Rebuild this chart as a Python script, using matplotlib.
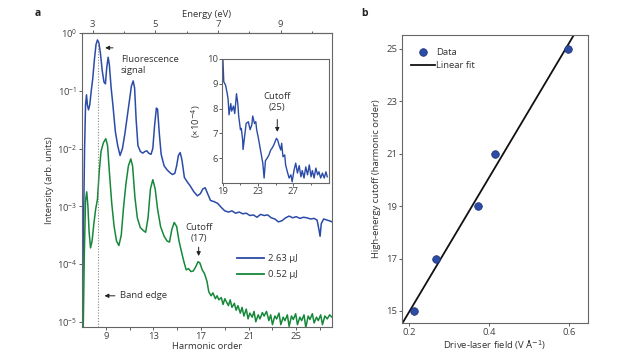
import numpy as np
import matplotlib
matplotlib.use("Agg")
from matplotlib import pyplot as plt
from matplotlib.lines import Line2D
from matplotlib.ticker import FixedLocator

plt.rcParams['font.family'] = ['Open Sans', 'DejaVu Sans']
plt.rcParams['font.size'] = 6.8
plt.rcParams['text.color'] = '#333333'
plt.rcParams['axes.labelcolor'] = '#333333'
plt.rcParams['xtick.color'] = '#444444'
plt.rcParams['ytick.color'] = '#444444'

# ---- panel a: spectra (harmonic order, log10 intensity) ----
blue_n = [7.02, 7.12, 7.22, 7.3, 7.38, 7.46, 7.55, 7.65, 7.78, 7.9, 8.05, 8.18, 8.3, 8.42,
          8.55, 8.7, 8.85, 8.97, 9.08, 9.2, 9.3, 9.45, 9.6, 9.8, 10.0, 10.2, 10.4, 10.6,
          10.8, 11.0, 11.15, 11.3, 11.42, 11.55, 11.7, 11.9, 12.1, 12.3, 12.45, 12.6, 12.8,
          12.95, 13.1, 13.25, 13.35, 13.5, 13.65, 13.9, 14.15, 14.4, 14.6, 14.8, 14.95,
          15.1, 15.25, 15.4, 15.6, 15.85, 16.1, 16.4, 16.7, 16.95, 17.15, 17.35, 17.55,
          17.8, 18.1, 18.4, 18.7, 19.0, 19.3, 19.6, 19.9, 20.2, 20.5, 20.8, 21.1, 21.4,
          21.7, 22.0, 22.3, 22.6, 22.9, 23.2, 23.5, 23.8, 24.1, 24.4, 24.7, 25.0, 25.3,
          25.6, 25.9, 26.2, 26.5, 26.75, 26.9, 27.0, 27.1, 27.3, 27.6, 27.9, 28.0]
blue_log = [-5.1, -3.5, -2.0, -1.25, -1.07, -1.25, -1.33, -1.25, -1.0, -0.8, -0.45, -0.2,
            -0.12, -0.17, -0.35, -0.65, -0.85, -0.88, -0.6, -0.42, -0.55, -0.95, -1.25,
            -1.7, -1.95, -2.12, -2.0, -1.75, -1.45, -1.15, -0.92, -0.83, -0.95, -1.5,
            -1.95, -2.05, -2.08, -2.05, -2.04, -2.08, -2.1, -2.0, -1.6, -1.3, -1.32, -1.75,
            -2.1, -2.3, -2.37, -2.42, -2.45, -2.43, -2.3, -2.12, -2.07, -2.2, -2.5, -2.58,
            -2.65, -2.75, -2.82, -2.78, -2.7, -2.68, -2.78, -2.9, -2.92, -2.95, -3.02,
            -3.08, -3.1, -3.08, -3.12, -3.1, -3.13, -3.12, -3.16, -3.15, -3.19, -3.14,
            -3.16, -3.15, -3.2, -3.22, -3.27, -3.25, -3.2, -3.17, -3.2, -3.18, -3.21,
            -3.19, -3.2, -3.22, -3.21, -3.24, -3.4, -3.52, -3.3, -3.22, -3.24, -3.26, -3.27]

green_n = [7.1, 7.2, 7.3, 7.4, 7.5, 7.6, 7.72, 7.85, 8.0, 8.15, 8.3, 8.45, 8.6, 8.8, 9.0,
           9.15, 9.3, 9.5, 9.7, 9.9, 10.1, 10.3, 10.5, 10.7, 10.9, 11.1, 11.25, 11.45,
           11.65, 11.9, 12.15, 12.35, 12.55, 12.75, 12.95, 13.15, 13.35, 13.6, 13.9, 14.15,
           14.35, 14.55, 14.75, 14.95, 15.15, 15.35, 15.55, 15.75, 15.95, 16.15, 16.35,
           16.55, 16.75, 16.9, 17.1, 17.3, 17.5, 17.65, 17.85, 18.0, 18.2, 18.35, 18.5,
           18.7, 18.85, 19.0, 19.15, 19.3, 19.45, 19.6, 19.8, 19.95, 20.1, 20.3, 20.45,
           20.6, 20.8, 20.95, 21.1, 21.3, 21.45, 21.6, 21.8, 21.95, 22.15, 22.3, 22.5,
           22.7, 22.85, 23.0, 23.2, 23.35, 23.55, 23.7, 23.9, 24.05, 24.25, 24.4, 24.6,
           24.75, 24.95, 25.1, 25.3, 25.45, 25.65, 25.8, 26.0, 26.15, 26.35, 26.5, 26.7,
           26.85, 27.05, 27.2, 27.4, 27.6, 27.8, 28.0]
green_log = [-5.2, -3.8, -2.9, -2.75, -3.0, -3.45, -3.72, -3.6, -3.3, -3.05, -2.88, -2.4,
             -2.05, -1.9, -1.83, -1.95, -2.4, -2.95, -3.35, -3.6, -3.68, -3.5, -3.0, -2.6,
             -2.3, -2.18, -2.3, -2.85, -3.2, -3.37, -3.42, -3.45, -3.2, -2.7, -2.54, -2.7,
             -3.05, -3.35, -3.52, -3.6, -3.62, -3.4, -3.28, -3.35, -3.6, -3.78, -3.95,
             -4.1, -4.08, -4.13, -4.12, -4.05, -3.96, -3.98, -4.1, -4.17, -4.3, -4.48,
             -4.55, -4.5, -4.6, -4.55, -4.62, -4.58, -4.7, -4.6, -4.66, -4.72, -4.62,
             -4.75, -4.68, -4.8, -4.72, -4.85, -4.75, -4.9, -4.78, -4.95, -4.85, -4.92,
             -4.82, -5.0, -4.88, -4.95, -4.84, -4.9, -4.82, -4.98, -4.88, -5.05, -4.9,
             -4.95, -4.85, -5.05, -4.92, -4.98, -4.88, -5.08, -4.9, -4.96, -4.86, -5.05,
             -4.92, -4.98, -4.88, -5.1, -4.9, -4.96, -4.86, -5.02, -4.92, -4.98, -4.88,
             -5.05, -4.9, -4.95, -4.88, -4.92]

# inset: 2.63 uJ high-order tail (x1e-4)
inset_n = [19.0, 19.1, 19.3, 19.5, 19.6, 19.7, 19.9, 20.0, 20.2, 20.35, 20.55, 20.7, 20.8,
           21.0, 21.1, 21.25, 21.3, 21.5, 21.65, 21.9, 22.1, 22.3, 22.4, 22.6, 22.75,
           22.85, 23.05, 23.3, 23.55, 23.7, 23.85, 24.05, 24.25, 24.45, 24.6, 24.8, 25.1,
           25.25, 25.4, 25.6, 25.7, 25.85, 26.05, 26.15, 26.35, 26.55, 26.75, 26.9, 27.1,
           27.3, 27.5, 27.7, 27.9, 28.05, 28.25, 28.45, 28.65, 28.85, 29.05, 29.2, 29.4,
           29.6, 29.8, 29.95, 30.15, 30.35, 30.55, 30.75, 30.9]
inset_val = [10.0, 9.08, 8.95, 8.6, 8.35, 7.75, 8.2, 7.9, 8.1, 7.8, 8.6, 8.2, 7.7, 7.15,
             7.2, 6.75, 6.35, 6.95, 7.4, 7.47, 7.15, 7.35, 7.7, 7.4, 7.47, 7.15, 6.8, 6.3,
             5.8, 5.2, 5.9, 6.0, 6.13, 6.33, 6.4, 6.53, 6.8, 6.73, 6.53, 6.33, 6.6, 6.06,
             6.13, 5.73, 5.45, 5.2, 5.33, 5.05, 5.5, 5.8, 5.4, 5.7, 5.25, 5.5, 5.2, 5.65,
             5.33, 5.73, 5.25, 5.5, 5.2, 5.6, 5.33, 5.45, 5.2, 5.4, 5.2, 5.45, 5.25]

legend_labels = ['2.63 μJ', '0.52 μJ']

# ---- panel b: cutoff vs field ----
field = [0.213, 0.268, 0.373, 0.414, 0.598]
cutoff = [15, 17, 19, 21, 25]

photon_ev = 0.38  # drive photon energy, harmonic order -> eV

blue = '#2b4ba8'
green = '#16883a'
spine_col = '#666666'

fig = plt.figure(figsize=(6.32, 3.56), dpi=100)

# ---------------- panel a ----------------
ax = fig.add_axes([0.1297, 0.0815, 0.3956, 0.8258])
ax.plot(blue_n, np.power(10.0, blue_log), color=blue, lw=1.1)
ax.plot(green_n, np.power(10.0, green_log), color=green, lw=1.1)
ax.set_yscale('log')
ax.set_xlim(7.0, 28.0)
ax.set_ylim(10 ** -5.09, 1.0)
ax.set_xticks([9, 13, 17, 21, 25])
ax.set_xticks([11, 15, 19, 23, 27], minor=True)
ax.yaxis.set_minor_locator(FixedLocator([]))
ax.set_yticks([1e-5, 1e-4, 1e-3, 1e-2, 1e-1, 1e0])
ax.tick_params(length=2.5, width=0.6, pad=1)
ax.tick_params(which='minor', length=1.8, width=0.6)
ax.set_xlabel('Harmonic order', labelpad=1)
ax.set_ylabel('Intensity (arb. units)', labelpad=2)
for s in ax.spines.values():
    s.set_color(spine_col)
    s.set_linewidth(0.8)

# band edge dotted line
ax.plot([8.33, 8.33], [10 ** -5.09, 0.7], ls=(0, (1, 1.5)), color='#888888', lw=0.8)

arrow = dict(arrowstyle='-|>', color='#222222', lw=0.7, mutation_scale=6)
ax.annotate('', xy=(8.72, 10 ** -0.257), xytext=(9.84, 10 ** -0.257), arrowprops=arrow)
ax.text(10.26, 10 ** -0.55, 'Fluorescence\nsignal', ha='left', va='center', linespacing=1.3)
ax.annotate('', xy=(8.66, 10 ** -4.55), xytext=(10.0, 10 ** -4.55), arrowprops=arrow)
ax.text(10.2, 10 ** -4.55, 'Band edge', ha='left', va='center')
ax.text(16.8, 10 ** -3.47, 'Cutoff\n(17)', ha='center', va='center', linespacing=1.3)
ax.annotate('', xy=(16.8, 10 ** -3.91), xytext=(16.8, 10 ** -3.66), arrowprops=arrow)

handles = [Line2D([], [], color=blue, lw=1.3), Line2D([], [], color=green, lw=1.3)]
ax.legend(handles, legend_labels, loc='center left', bbox_to_anchor=(0.585, 0.205),
          frameon=False, handlelength=2.9, handletextpad=0.4, labelspacing=0.7)

sec = ax.secondary_xaxis('top', functions=(lambda n: n * photon_ev, lambda e: e / photon_ev))
sec.set_xticks([3, 5, 7, 9])
sec.set_xticks([4, 6, 8, 10], minor=True)
sec.tick_params(length=2.5, width=0.6, pad=0.5)
sec.tick_params(which='minor', length=1.8, width=0.6)
sec.set_xlabel('Energy (eV)', labelpad=2)
sec.spines['top'].set_color(spine_col)

# inset
ins = fig.add_axes([0.3513, 0.4860, 0.1693, 0.3483])
ins.plot(inset_n, inset_val, color=blue, lw=1.0)
ins.set_xlim(18.9, 31.1)
ins.set_ylim(5.0, 10.0)
ins.set_xticks([19, 23, 27])
ins.set_xticks([21, 25, 29], minor=True)
ins.set_yticks([6, 7, 8, 9, 10])
ins.tick_params(length=2.0, width=0.6, pad=1)
ins.tick_params(which='minor', length=1.6, width=0.6)
ins.set_ylabel('(×10$^{-4}$)', labelpad=3)
for s in ins.spines.values():
    s.set_color(spine_col)
    s.set_linewidth(0.8)
ins.text(25.2, 8.25, 'Cutoff\n(25)', ha='center', va='center', linespacing=1.3)
ins.annotate('', xy=(25.2, 6.95), xytext=(25.2, 7.67), arrowprops=arrow)

fig.text(0.055, 0.955, 'a', fontweight='bold', fontsize=7.5, color='#222222')

# ---------------- panel b ----------------
bx = fig.add_axes([0.6361, 0.0927, 0.2943, 0.809])
coef = np.polyfit(field, cutoff, 1)
fx = np.array([0.17, 0.65])
bx.plot(fx, np.polyval(coef, fx), color='#111111', lw=1.3, label='Linear fit', zorder=2)
bx.plot(field, cutoff, 'o', color='#2c4ca6', mec='#1d2f70', mew=0.5, ms=5.5,
        label='Data', zorder=3)
bx.set_xlim(0.1825, 0.6475)
bx.set_ylim(14.54, 25.53)
bx.set_xticks([0.2, 0.4, 0.6])
bx.set_yticks([15, 17, 19, 21, 23, 25])
bx.tick_params(length=2.5, width=0.6, pad=1)
bx.set_xlabel('Drive-laser field (V Å$^{-1}$)', labelpad=1)
bx.set_ylabel('High-energy cutoff (harmonic order)', labelpad=4)
for s in bx.spines.values():
    s.set_color(spine_col)
    s.set_linewidth(0.8)
h, l = bx.get_legend_handles_labels()
bx.legend([h[1], h[0]], [l[1], l[0]], loc='upper left', bbox_to_anchor=(0.0, 0.985),
          frameon=False, handlelength=2.6, handletextpad=0.15, labelspacing=0.45)

fig.text(0.572, 0.955, 'b', fontweight='bold', fontsize=7.5, color='#222222')

fig.savefig('out.png', dpi=100)
